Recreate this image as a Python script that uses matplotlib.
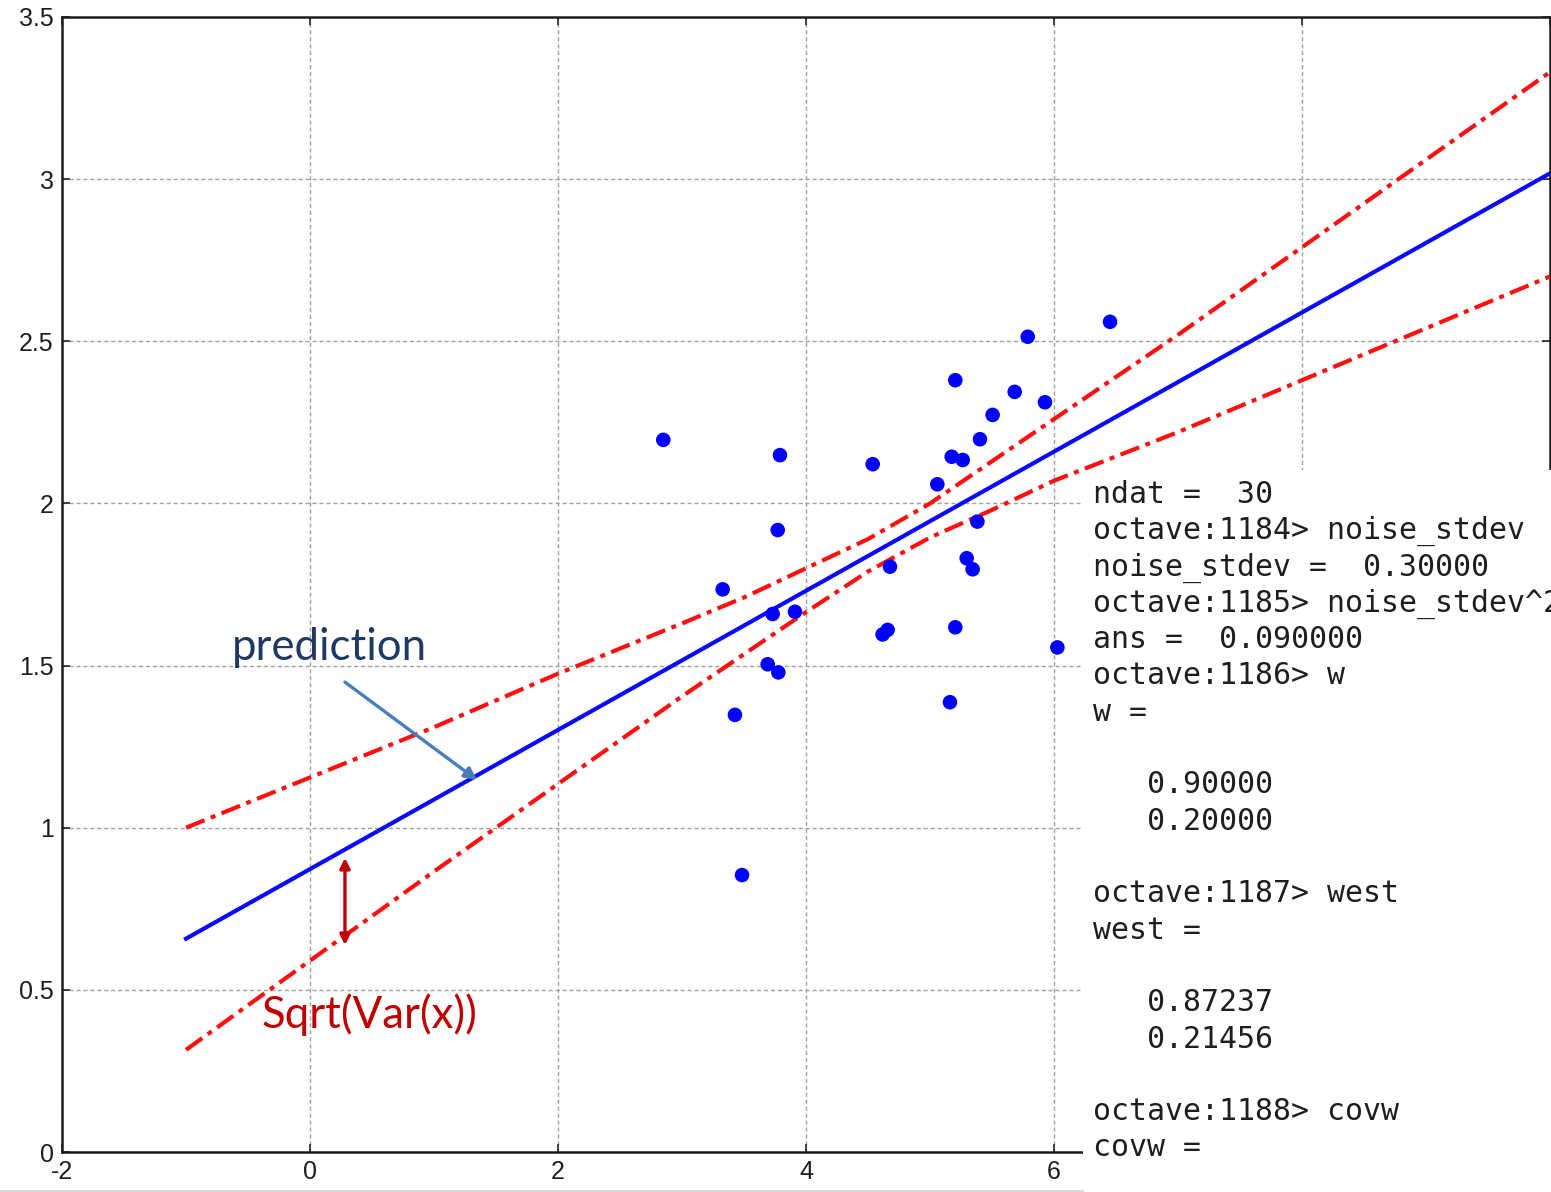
import matplotlib
matplotlib.use("Agg")
import matplotlib.pyplot as plt
from matplotlib.patches import Rectangle
from matplotlib.lines import Line2D
import numpy as np

# noisy samples
x_data = [2.849, 3.790, 3.772, 3.328, 3.731, 3.911, 3.691, 3.777, 3.427, 3.484,
          4.538, 5.059, 5.204, 5.175, 5.264, 5.403, 5.505, 5.683, 5.788, 5.927,
          6.452, 5.382, 5.296, 5.344, 4.677, 4.618, 4.658, 5.204, 5.161, 6.027]
y_data = [2.196, 2.149, 1.918, 1.735, 1.659, 1.666, 1.504, 1.479, 1.348, 0.854,
          2.121, 2.059, 2.380, 2.144, 2.134, 2.198, 2.273, 2.344, 2.514, 2.312,
          2.560, 1.944, 1.831, 1.797, 1.805, 1.596, 1.610, 1.618, 1.387, 1.556]

# estimated weights (intercept, slope)
west = [0.87237, 0.21456]
x_fit = [-1, 10]

# +/- one std dev of the prediction
x_band = [-1, 0, 1, 2, 3, 3.5, 4, 4.5, 5, 5.5, 6, 7, 8, 9, 10]
y_upper = [1.00, 1.155, 1.31, 1.475, 1.63, 1.71, 1.80, 1.89, 2.00, 2.13, 2.26, 2.52, 2.79, 3.06, 3.33]
y_lower = [0.315, 0.59, 0.865, 1.135, 1.405, 1.535, 1.665, 1.79, 1.895, 1.98, 2.07, 2.22, 2.38, 2.54, 2.70]

xticks = [-2, 0, 2, 4, 6, 8, 10]
xtick_labels = ['-2', '0', '2', '4', '6', '', '']
yticks = [0, 0.5, 1, 1.5, 2, 2.5, 3, 3.5]
ytick_labels = ['0', '0.5', '1', '1.5', '2', '2.5', '3', '3.5']

session = [
    "ndat =  30",
    "octave:1184> noise_stdev",
    "noise_stdev =  0.30000",
    "octave:1185> noise_stdev^2",
    "ans =  0.090000",
    "octave:1186> w",
    "w =",
    "",
    "   0.90000",
    "   0.20000",
    "",
    "octave:1187> west",
    "west =",
    "",
    "   0.87237",
    "   0.21456",
    "",
    "octave:1188> covw",
    "covw =",
]

W, H = 1551, 1192
fig = plt.figure(figsize=(W / 100, H / 100), dpi=100)
ax = fig.add_axes([62 / W, 40 / H, 1488 / W, 1135 / H])

ax.set_xlim(-2, 10)
ax.set_ylim(0, 3.5)
ax.set_xticks(xticks)
ax.set_xticklabels(xtick_labels)
ax.set_yticks(yticks)
ax.set_yticklabels(ytick_labels)
ax.grid(True, color='#a0a0a0', lw=1, linestyle=(0, (3, 2)))
ax.set_axisbelow(True)
ax.tick_params(direction='in', length=6, width=1.2, top=True, right=True,
               labelsize=18, pad=6, labelcolor='#1e1e1e', color='#222222')
for lab in ax.get_xticklabels() + ax.get_yticklabels():
    lab.set_family('Liberation Sans')
for sp in ax.spines.values():
    sp.set_linewidth(1.8)
    sp.set_color('#1e1e1e')

xf = np.array(x_fit, dtype=float)
ax.plot(xf, west[0] + west[1] * xf, color='#0a0aff', lw=3, zorder=3)
ax.plot(x_band, y_upper, color='#ff1010', lw=3, linestyle=(0, (4.8, 1.6, 1.2, 1.6)), zorder=3)
ax.plot(x_band, y_lower, color='#ff1010', lw=3, linestyle=(0, (4.8, 1.6, 1.2, 1.6)), zorder=3)
ax.scatter(x_data, y_data, s=110, color='#0000ff', edgecolors='none', zorder=4)

# callouts
ax.text(-0.63, 1.517, 'prediction', color='#1f3864', fontsize=31.5, family='Lato', va='baseline')
ax.annotate('', xy=(1.347, 1.147), xytext=(0.282, 1.449),
            arrowprops=dict(arrowstyle='-|>', color='#4a7ebb', lw=2.4,
                            mutation_scale=18, shrinkA=0, shrinkB=0), zorder=5)
ax.text(-0.39, 0.382, 'Sqrt(Var(x))', color='#c00000', fontsize=31.5, family='Lato', va='baseline')
ax.annotate('', xy=(0.282, 0.638), xytext=(0.282, 0.907),
            arrowprops=dict(arrowstyle='<|-|>', color='#c00000', lw=2.4,
                            mutation_scale=15, shrinkA=0, shrinkB=0), zorder=5)

# terminal output pasted over the lower right
fig.add_artist(Rectangle((1083 / W, 0), 1, (H - 470) / H, transform=fig.transFigure,
                         facecolor='white', edgecolor='none', zorder=5))
fig.add_artist(Line2D([0, 1083 / W], [1.5 / H, 1.5 / H], transform=fig.transFigure,
                      color='#d4d4d4', lw=1.2, zorder=5))
for i, line in enumerate(session):
    if line:
        fig.text(1093 / W, 1 - (503 + i * 36.3) / H, line, family='DejaVu Sans Mono',
                 fontsize=21.5, color='#1e1e1e', va='baseline', ha='left', zorder=6)

fig.savefig('out.png', dpi=100)
